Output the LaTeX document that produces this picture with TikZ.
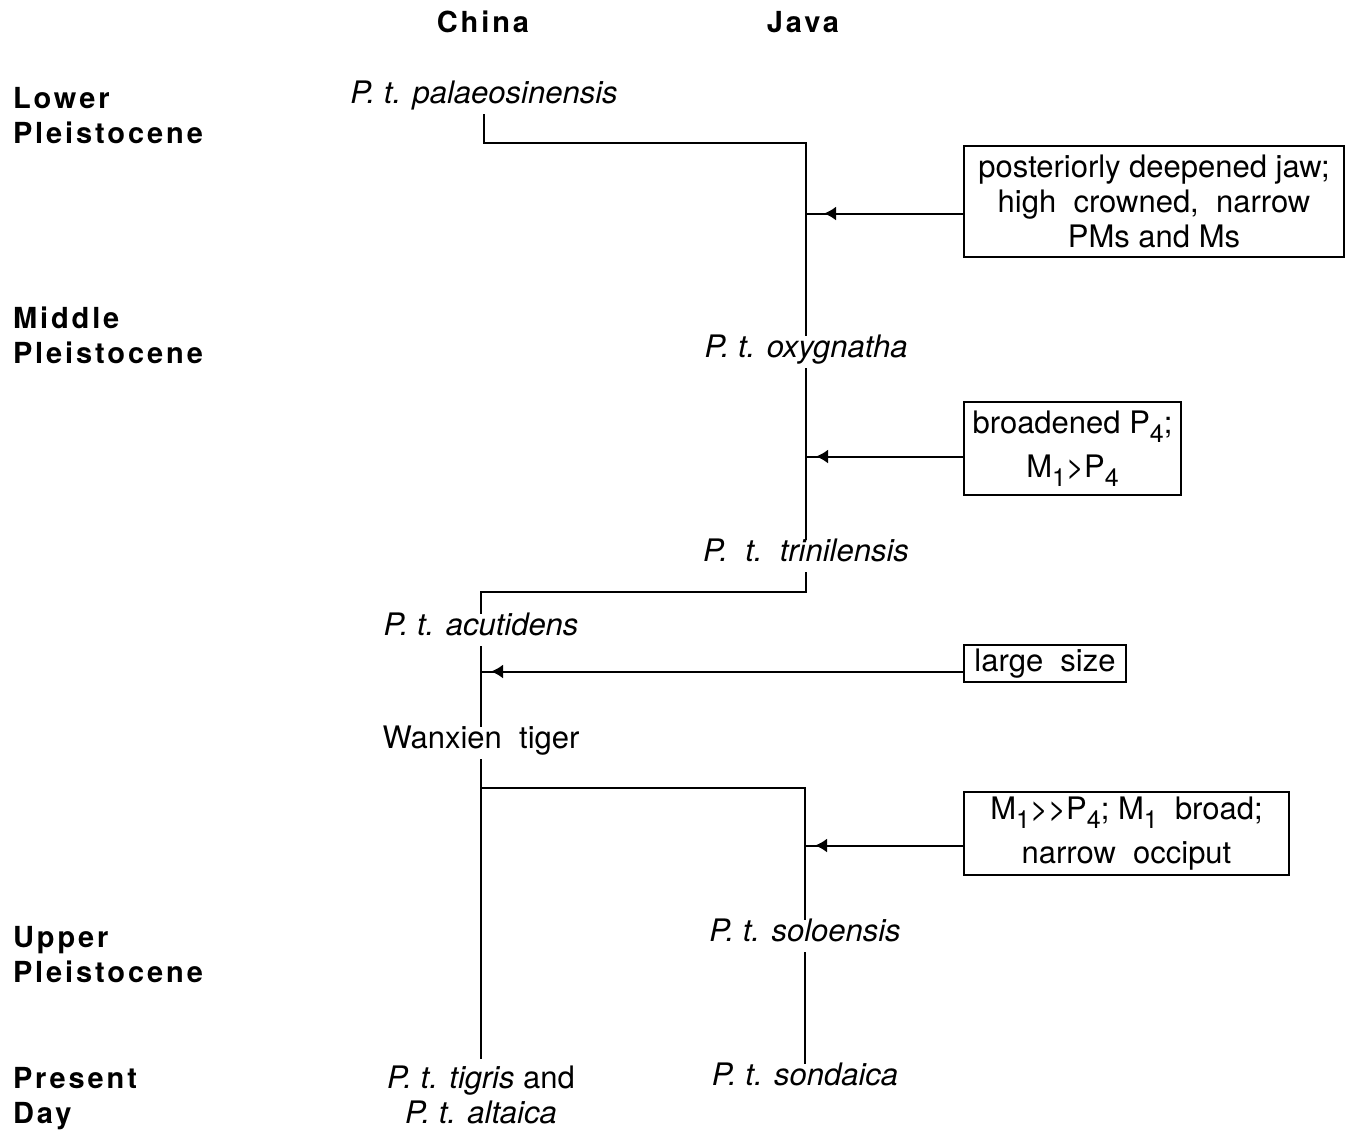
\documentclass[tikz,border=0pt]{standalone}
\usepackage{fontspec}
\setmainfont{TeX Gyre Heros}
\newfontfamily\spacedfont[LetterSpace=10]{TeX Gyre Heros}
\usetikzlibrary{arrows.meta}
\newcommand{\lowix}[1]{\raisebox{-0.55ex}{\fontsize{12.5}{12.5}\selectfont #1}}

\begin{document}
\begin{tikzpicture}[
    x=0.5pt, y=-0.5pt,
    font=\fontsize{15.5}{17.5}\selectfont,
    line width=1pt,
    period/.style={anchor=west, inner sep=0pt, align=left, font=\fontsize{14.5}{17.5}\selectfont\spacedfont\bfseries},
    place/.style={inner sep=0pt, font=\fontsize{14.5}{17.5}\selectfont\spacedfont\bfseries},
    taxon/.style={inner xsep=2pt, inner ysep=3pt, text height=0.72em, text depth=0.22em, font=\fontsize{15.5}{17.5}\selectfont\itshape},
    taxontwo/.style={inner sep=3pt, align=center},
    trait/.style={draw, anchor=north west, align=center, inner sep=0pt},
    traitarrow/.style={-{Latex[length=6pt,width=7pt]}}
]
\useasboundingbox (0,0) rectangle (1347,1131);

% column heads and periods
\node[place] (china) at (483,22) {China};
\node[place] (java) at (803,22) {Java};
\node[period] (lower) at (12,116) {Lower\\Pleistocene};
\node[period] (middle) at (12,335) {Middle\\Pleistocene};
\node[period] (upper) at (12,955) {Upper\\Pleistocene};
\node[period] (present) at (12,1099) {Present\\Day};

% taxa
\node[taxon] (pal) at (484,98) {P. t. palaeosinensis};
\node[taxon] (oxy) at (806,352) {P. t. oxygnatha};
\node[taxon] (tri) at (806,556) {P.\ \ t.\ \ trinilensis};
\node[taxon] (acu) at (481,630) {P. t. acutidens};
\node[taxon, font=\fontsize{15.5}{17.5}\selectfont] (wan) at (481,743) {Wanxien\ \ tiger};
\node[taxon] (solo) at (805,936) {P. t. soloensis};
\node[taxon] (sond) at (805,1080) {P. t. sondaica};
\node[taxontwo] (tig) at (481,1095) {\textit{P. t. tigris} and\\\textit{P. t. altaica}};

% character boxes
\node[trait, minimum width=190pt, minimum height=55.5pt] (jaw) at (963,145) {posteriorly deepened jaw;\\high\ \ crowned,\ \ narrow\\PMs and Ms};
\node[trait, minimum width=108.5pt, minimum height=46.5pt] (broad) at (963,401) {broadened P\lowix{4};\\[4.5pt]M\lowix{1}>P\lowix{4}};
\node[trait, minimum width=81pt, minimum height=18.5pt] (size) at (963,644) {large\ \ size};
\node[trait, minimum width=162.5pt, minimum height=41.5pt] (occ) at (963,791) {M\lowix{1}>\kern0pt>P\lowix{4}; M\lowix{1}\ \ broad;\\[4.5pt]narrow\ \ occiput};

% lineages
\coordinate (forkA) at (484,143);
\coordinate (forkB) at (806,592);
\coordinate (forkC) at (481,788);
\draw (pal.south) -- (forkA) -| (oxy.north);
\draw (oxy.south) -- (tri.north);
\draw (tri.south) -- (forkB) -| (acu.north);
\draw (acu.south) -- (wan.north);
\draw (wan.south) -- (wan.south |- tig.north);
\draw (forkC) -| (solo.north);
\draw (solo.south) -- (sond.north);

% character arrows (tip a little off the stem)
\coordinate (jawtail) at ([yshift=-6pt]jaw.west);
\coordinate (broadtail) at ([yshift=-4pt]broad.west);
\coordinate (sizetail) at ([yshift=-4pt]size.west);
\coordinate (occtail) at ([yshift=-6pt]occ.west);
\coordinate (jawhit) at (jawtail -| oxy.north);
\coordinate (broadhit) at (broadtail -| oxy.south);
\coordinate (sizehit) at (sizetail -| acu.south);
\coordinate (occhit) at (occtail -| solo.north);
\draw (jawtail) -- (jawhit);
\draw[traitarrow] (jawtail) -- ([xshift=9pt]jawhit);
\draw (broadtail) -- (broadhit);
\draw[traitarrow] (broadtail) -- ([xshift=5pt]broadhit);
\draw (sizetail) -- (sizehit);
\draw[traitarrow] (sizetail) -- ([xshift=5pt]sizehit);
\draw (occtail) -- (occhit);
\draw[traitarrow] (occtail) -- ([xshift=5pt]occhit);
\end{tikzpicture}
\end{document}
